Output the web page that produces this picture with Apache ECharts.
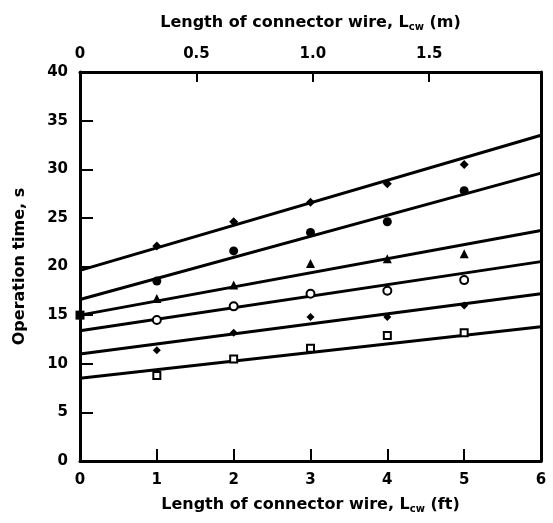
<!DOCTYPE html>
<html>
<head>
<meta charset="utf-8">
<script src="https://cdn.jsdelivr.net/npm/echarts@6/dist/echarts.min.js"></script>
<style>
  html, body { margin: 0; padding: 0; background: #fff; }
  #main { width: 553px; height: 523px; }
</style>
</head>
<body>
<div id="main"></div>
<script>
// wire length, ft (measured points)
var lengthFt = [1, 2, 3, 4, 5];
var set1 = [22.1, 24.6, 26.6, 28.5, 30.5];
var set2 = [18.5, 21.6, 23.5, 24.6, 27.8];
var set3 = [16.7, 18.1, 20.3, 20.8, 21.3];
var set4 = [14.5, 15.9, 17.2, 17.5, 18.6];
var set5 = [11.4, 13.2, 14.8, 14.8, 16.0];
var set6 = [8.8, 10.5, 11.6, 12.9, 13.2];
// extra point on the axis for set 3
var set3AtZero = 15.0;

// fitted lines, value at 0 ft and at 6 ft
var fitX = [0, 6];
var fitStart = [19.6, 16.6, 15.0, 13.4, 11.0, 8.5];
var fitEnd = [33.5, 29.6, 23.7, 20.5, 17.2, 13.8];

var yTicks = [0, 40, 5];
var topMax = 1.98; // metres across the same width (about 3 ft per m on the plot)

var sets = [set1, set2, set3, set4, set5, set6];
var symbols = ['diamond', 'circle', 'triangle', 'emptyCircle', 'diamond', 'emptyRect'];
var sizes = [9, 9, 9, 8, 8, 7];

var myChart = echarts.init(document.getElementById('main'));
var font = 'DejaVu Sans';
var black = '#000';

var series = [];
for (var i = 0; i < sets.length; i++) {
    series.push({
        type: 'line',
        data: [[fitX[0], fitStart[i]], [fitX[1], fitEnd[i]]],
        showSymbol: false,
        lineStyle: { color: black, width: 3 },
        silent: true,
        z: 2
    });
    var pts = [];
    if (i === 2) pts.push([0, set3AtZero]);
    for (var j = 0; j < lengthFt.length; j++) {
        pts.push([lengthFt[j], sets[i][j]]);
    }
    series.push({
        type: 'scatter',
        data: pts,
        symbol: i === 2 ? function(v) { return v[0] === 0 ? 'rect' : 'triangle'; } : symbols[i],
        symbolSize: sizes[i],
        itemStyle: { color: black, opacity: 1, borderWidth: symbols[i].indexOf('empty') === 0 ? 2 : 0 },
        z: 3
    });
}

var subStyle = { fontFamily: font, fontWeight: 'bold', fontSize: 10, color: black, verticalAlign: 'bottom', padding: [8, 0, 0, 0] };

var option = {
    animation: false,
    grid: { left: 80, right: 12, top: 72, bottom: 62, containLabel: false },
    xAxis: [{
        type: 'value',
        position: 'bottom',
        min: 0,
        max: 6,
        interval: 1,
        name: 'Length of connector wire, L{sub|cw} (ft)',
        nameLocation: 'middle',
        nameGap: 35,
        nameTextStyle: { fontFamily: font, fontWeight: 'bold', fontSize: 16, color: black, rich: { sub: subStyle } },
        axisLine: { show: true, onZero: false, lineStyle: { color: black, width: 3 } },
        axisTick: { show: true, inside: true, length: 12, lineStyle: { color: black, width: 2 } },
        axisLabel: { color: black, fontFamily: font, fontWeight: 'bold', fontSize: 15, margin: 12 },
        splitLine: { show: false }
    }, {
        type: 'value',
        position: 'top',
        min: 0,
        max: topMax,
        interval: 0.5,
        name: 'Length of connector wire, L{sub|cw} (m)',
        nameLocation: 'middle',
        nameGap: 40,
        nameTextStyle: { fontFamily: font, fontWeight: 'bold', fontSize: 16, color: black, rich: { sub: subStyle } },
        axisLine: { show: true, onZero: false, lineStyle: { color: black, width: 3 } },
        axisTick: { show: true, inside: true, length: 10, lineStyle: { color: black, width: 2 } },
        axisLabel: {
            color: black, fontFamily: font, fontWeight: 'bold', fontSize: 15, margin: 10,
            showMaxLabel: false,
            formatter: function(v) { return v === 0 ? '0' : v.toFixed(1); }
        },
        splitLine: { show: false }
    }],
    yAxis: [{
        type: 'value',
        min: yTicks[0],
        max: yTicks[1],
        interval: yTicks[2],
        name: 'Operation time, s',
        nameLocation: 'middle',
        nameGap: 52,
        nameTextStyle: { fontFamily: font, fontWeight: 'bold', fontSize: 16, color: black },
        axisLine: { show: true, onZero: false, lineStyle: { color: black, width: 3 } },
        axisTick: { show: true, inside: true, length: 13, lineStyle: { color: black, width: 2 } },
        axisLabel: { color: black, fontFamily: font, fontWeight: 'bold', fontSize: 15, margin: 12 },
        splitLine: { show: false }
    }, {
        type: 'value',
        position: 'right',
        min: yTicks[0],
        max: yTicks[1],
        interval: yTicks[2],
        axisLine: { show: true, onZero: false, lineStyle: { color: black, width: 3 } },
        axisTick: { show: false },
        axisLabel: { show: false },
        splitLine: { show: false }
    }],
    series: series
};
myChart.setOption(option);
</script>
</body>
</html>
